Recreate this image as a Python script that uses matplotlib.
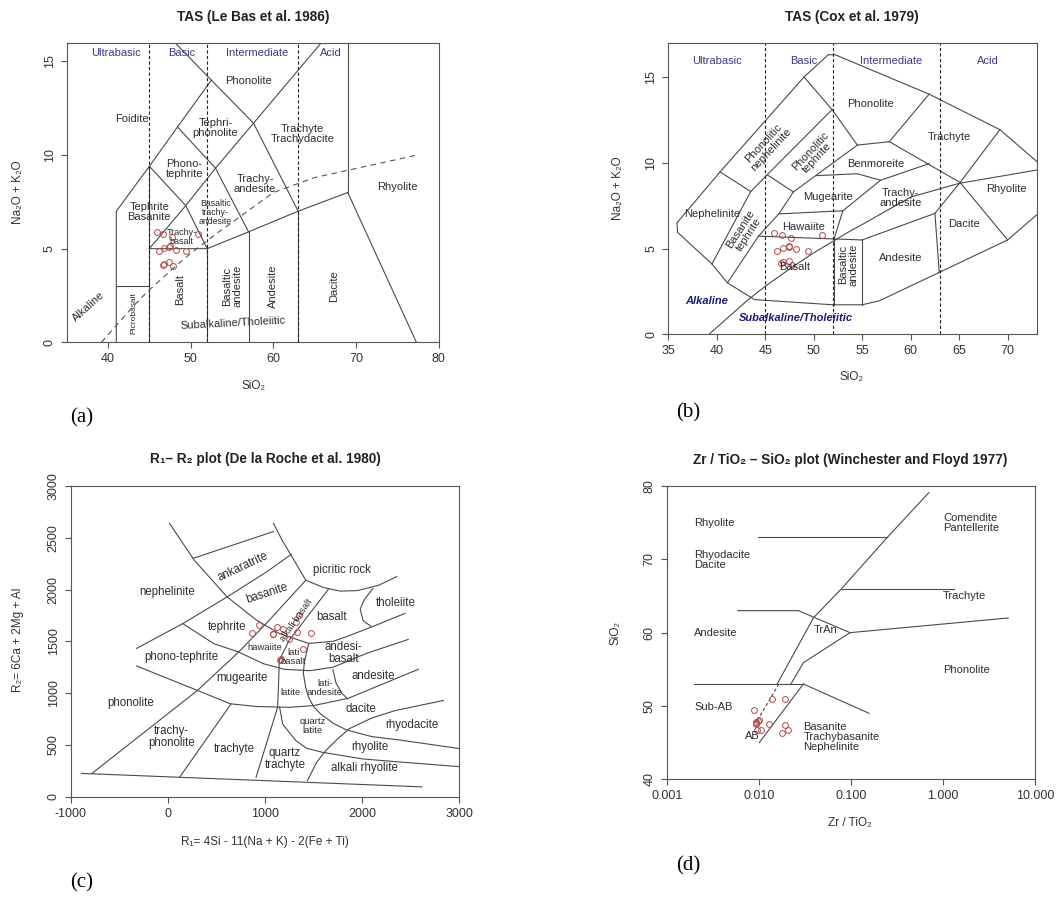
import matplotlib
matplotlib.use("Agg")
import matplotlib.pyplot as plt
from matplotlib.ticker import FixedLocator, NullLocator

plt.rcParams["font.family"] = ["Liberation Sans", "DejaVu Sans"]
plt.rcParams["axes.unicode_minus"] = False

W, H = 1059, 897
LINE = "#4a4a4a"
TXT = "#2e2e2e"
GROUP = "#3a3a88"
PT = "#b24a4a"

# ---------------------------------------------------------------------------
# Data
# ---------------------------------------------------------------------------

# samples (SiO2, Na2O+K2O)
sio2 = [45.9, 46.7, 47.7, 50.9, 46.2, 46.8, 47.4, 47.5, 48.2, 49.4, 46.6, 46.8, 47.4, 47.8]
alk = [5.9, 5.8, 5.6, 5.8, 4.85, 5.05, 5.1, 5.15, 4.95, 4.85, 4.15, 4.2, 4.3, 4.05]

# Irvine & Baragar alkaline / subalkaline divide
ib_sio2 = [39.2, 40, 43.2, 45, 48, 50, 53.7, 55, 60, 65, 77.4]
ib_alk = [0, 0.4, 2, 2.8, 4, 4.75, 6, 6.4, 8, 8.8, 10]

# (a) Le Bas et al. 1986 field boundaries
lebas_lines = [
    [(41, 0), (41, 7), (45, 9.4), (48.4, 11.5), (52.5, 14)],
    [(41, 3), (45, 3)],
    [(45, 0), (45, 9.4)],
    [(45, 5), (52, 5), (57, 5.9), (63, 7), (69, 8)],
    [(52, 0), (52, 5)],
    [(57, 0), (57, 5.9)],
    [(63, 0), (63, 7)],
    [(69, 8), (69, 16)],
    [(69, 8), (77.3, 0)],
    [(45, 5), (49.4, 7.3), (53, 9.3), (57.6, 11.7), (65.8, 16)],
    [(45, 9.4), (49.4, 7.3), (52, 5)],
    [(48.4, 11.5), (53, 9.3), (57, 5.9)],
    [(48.1, 16), (52.5, 14), (57.6, 11.7), (63, 7)],
]
lebas_labels = [
    ("Phonolite", 57.0, 13.93, 8, 0),
    ("Foidite", 42.9, 11.9, 8, 0),
    ("Tephri-\nphonolite", 53.0, 11.45, 8, 0),
    ("Trachyte\nTrachydacite", 63.5, 11.15, 8, 0),
    ("Phono-\ntephrite", 49.2, 9.25, 8, 0),
    ("Trachy-\nandesite", 57.8, 8.45, 8, 0),
    ("Rhyolite", 75.0, 8.3, 8, 0),
    ("Tephrite\nBasanite", 45.0, 6.95, 8, 0),
    ("Basaltic\ntrachy-\nandesite", 53.0, 6.95, 6.3, 0),
    ("Trachy-\nbasalt", 48.9, 5.6, 6.5, 0),
    ("Basalt", 48.7, 2.8, 8, 90),
    ("Basaltic\nandesite", 55.0, 3.0, 8, 90),
    ("Andesite", 60.0, 3.0, 8, 90),
    ("Dacite", 67.3, 3.0, 8, 90),
    ("Picrobasalt", 43.1, 1.55, 6, 90),
    ("Alkaline", 37.6, 1.9, 8, 42),
    ("Subalkaline/Tholeiitic", 55.1, 1.0, 8, 3),
]
lebas_groups = [("Ultrabasic", 41.0), ("Basic", 48.9), ("Intermediate", 58.0), ("Acid", 67.0)]

# (b) Cox et al. 1979 field boundaries
cox_lines = [
    [(35.9, 6.5), (40.34, 9.47), (49.0, 15.0), (51.5, 16.3), (52.2, 16.3),
     (61.9, 14.0), (69.2, 11.93), (73.0, 10.08)],
    [(35.9, 6.5), (35.95, 5.95), (39.5, 4.1), (41.1, 3.0), (43.9, 2.02),
     (52.0, 1.72), (55.0, 1.72), (56.8, 1.96), (70.0, 5.5), (73.0, 6.96)],
    [(40.34, 9.47), (43.5, 8.32)],
    [(39.5, 4.1), (43.5, 8.32), (45.2, 9.3), (51.9, 13.1)],
    [(49.0, 15.0), (51.9, 13.1), (54.5, 11.03)],
    [(45.2, 9.3), (47.9, 8.3)],
    [(47.9, 8.3), (54.5, 11.03)],
    [(54.5, 11.03), (57.8, 11.23)],
    [(57.8, 11.23), (61.9, 14.0)],
    [(57.8, 11.23), (65.1, 8.85)],
    [(50.3, 9.25), (54.5, 9.36), (56.9, 8.98), (61.9, 9.95)],
    [(41.1, 3.0), (44.3, 5.72), (46.4, 7.02), (47.9, 8.3)],
    [(44.3, 5.72), (52.1, 5.56)],
    [(46.4, 7.02), (53.0, 7.2)],
    [(53.0, 7.2), (52.1, 5.56)],
    [(53.0, 7.2), (56.9, 8.98)],
    [(52.1, 5.56), (52.1, 1.72)],
    [(52.1, 5.56), (55.0, 5.5)],
    [(55.0, 5.5), (55.0, 1.72)],
    [(55.0, 5.5), (62.5, 7.05)],
    [(62.5, 7.05), (62.95, 3.6)],
    [(62.5, 7.05), (65.1, 8.85)],
    [(65.1, 8.85), (69.2, 11.93)],
    [(65.1, 8.85), (70.0, 5.5)],
]
cox_labels = [
    ("Phonolite", 55.9, 13.45, 8, 0),
    ("Trachyte", 64.0, 11.5, 8, 0),
    ("Benmoreite", 56.4, 9.95, 8, 0),
    ("Rhyolite", 69.9, 8.5, 8, 0),
    ("Mugearite", 51.5, 8.0, 8, 0),
    ("Trachy-\nandesite", 59.0, 7.95, 8, 0),
    ("Nephelinite", 39.5, 7.0, 8, 0),
    ("Dacite", 65.5, 6.45, 8, 0),
    ("Hawaiite", 49.0, 6.25, 8, 0),
    ("Andesite", 59.0, 4.45, 8, 0),
    ("Basalt", 48.0, 3.95, 8, 0),
    ("Basaltic\nandesite", 53.6, 4.05, 8, 90),
    ("Phonolitic\nnephelinite", 45.2, 10.95, 8, 47),
    ("Phonolitic\ntephrite", 50.0, 10.5, 8, 47),
    ("Basanite\ntephrite", 42.9, 6.0, 8, 57),
]
cox_groups = [("Ultrabasic", 40.0), ("Basic", 49.0), ("Intermediate", 58.0), ("Acid", 68.0)]

# (c) De la Roche et al. 1980 (R1, R2)
r1 = [863, 942, 1078, 1085, 1119, 1181, 1317, 1345, 1334, 1478, 1249, 1392, 1157, 1160]
r2 = [1577, 1656, 1574, 1570, 1639, 1623, 1687, 1750, 1590, 1581, 1526, 1429, 1323, 1330]
roche_lines = [
    [(-890, 225), (2615, 95)],
    [(-780, 226), (305, 1026), (729, 1397), (1017, 1677), (1420, 2090)],
    [(-321, 1432), (153, 1671), (610, 1929), (1017, 2171), (1270, 2340)],
    [(17, 2639), (271, 2284), (610, 1929), (915, 1703), (1150, 1575), (1450, 1480),
     (1700, 1500), (1830, 1542), (2100, 1640), (2441, 1770)],
    [(1086, 2640), (1180, 2470), (1257, 2350), (1420, 2090), (1600, 2020), (1772, 1985),
     (1950, 1990), (2171, 2042), (2355, 2125)],
    [(2110, 2010), (2020, 1900), (1980, 1810), (2010, 1700), (2090, 1645)],
    [(262, 2302), (1086, 2560)],
    [(153, 1671), (475, 1477), (729, 1397), (983, 1284), (1200, 1230), (1463, 1217),
     (1700, 1250), (2046, 1384), (2475, 1519)],
    [(-321, 1262), (305, 1026), (644, 897), (915, 871), (1257, 863), (1500, 880),
     (1857, 950), (2578, 1230)],
    [(1652, 2002), (1249, 1510), (1147, 1316), (1140, 1100), (1130, 865), (908, 187)],
    [(650, 895), (125, 193)],
    [(1700, 1225), (1730, 1100), (1790, 1000), (1850, 945)],
    [(1450, 1478), (1405, 1300), (1395, 1191), (1420, 1050), (1446, 966), (1500, 870),
     (1566, 805), (1700, 710), (1840, 644), (2100, 580), (2389, 547), (3000, 465)],
    [(1150, 866), (1181, 703), (1317, 542), (1429, 467), (1590, 429), (2000, 365),
     (2389, 335), (3000, 290)],
    [(1437, 155), (1530, 330), (1625, 445), (1750, 560), (1864, 655), (2100, 760),
     (2341, 832), (2836, 929)],
]
roche_labels = [
    ("ankaratrite", 777, 2221, 8.3, 25),
    ("picritic rock", 1796, 2189, 8.3, 0),
    ("nephelinite", -2, 1980, 8.3, 0),
    ("basanite", 1017, 1964, 8.3, 18),
    ("tholeiite", 2348, 1867, 8.3, 0),
    ("alkali basalt", 1326, 1706, 6.8, 55),
    ("basalt", 1686, 1732, 8.3, 0),
    ("tephrite", 605, 1642, 8.3, 0),
    ("andesi-\nbasalt", 1806, 1384, 8.3, 0),
    ("hawaiite", 1000, 1439, 6.8, 0),
    ("lati\nbasalt", 1292, 1352, 6.8, 0),
    ("phono-tephrite", 136, 1346, 8.3, 0),
    ("andesite", 2115, 1165, 8.3, 0),
    ("mugearite", 767, 1143, 8.3, 0),
    ("lati-\nandesite", 1617, 1046, 6.8, 0),
    ("latite", 1264, 1008, 6.8, 0),
    ("phonolite", -383, 901, 8.3, 0),
    ("dacite", 1988, 850, 8.3, 0),
    ("rhyodacite", 2513, 692, 8.3, 0),
    ("quartz\nlatite", 1491, 682, 6.8, 0),
    ("trachy-\nphonolite", 39, 579, 8.3, 0),
    ("rhyolite", 2081, 483, 8.3, 0),
    ("trachyte", 684, 457, 8.3, 0),
    ("quartz\ntrachyte", 1206, 364, 8.3, 0),
    ("alkali rhyolite", 2022, 274, 8.3, 0),
]

# (d) Winchester & Floyd 1977 (Zr/TiO2, SiO2)
zr_tio2 = [0.0088, 0.0100, 0.0093, 0.0092, 0.0139, 0.0190, 0.0130, 0.0095, 0.0105,
           0.0190, 0.0205, 0.0180, 0.0092, 0.0097]
sio2_d = [49.4, 48.1, 47.8, 47.6, 51.0, 51.0, 47.5, 46.7, 46.7, 47.4, 46.7, 46.3, 47.7, 47.9]
wf_lines = [
    [(0.0099, 73.0), (0.248, 73.0)],
    [(0.70, 79.1), (0.248, 73.0), (0.079, 66.0), (0.039, 62.0), (0.0304, 59.5), (0.0158, 53.0)],
    [(0.002, 53.0), (0.0304, 53.0)],
    [(0.0304, 53.0), (0.157, 49.0)],
    [(0.0304, 53.0), (0.0101, 45.0)],
    [(0.0223, 53.0), (0.0304, 55.9), (0.0975, 60.0), (5.09, 62.0)],
    [(0.0059, 63.0), (0.0268, 63.0), (0.0975, 60.0)],
    [(0.079, 66.0), (1.31, 66.0)],
]
wf_dashed = [(0.0165, 53.0), (0.0096, 48.0)]
wf_labels = [
    ("Rhyolite", 0.002, 75.0, "left"),
    ("Rhyodacite\nDacite", 0.002, 69.9, "left"),
    ("Comendite\nPantellerite", 1.0, 74.9, "left"),
    ("Trachyte", 1.0, 65.0, "left"),
    ("Andesite", 0.002, 59.9, "left"),
    ("TrAn", 0.039, 60.4, "left"),
    ("Phonolite", 1.0, 54.9, "left"),
    ("Sub-AB", 0.002, 49.9, "left"),
    ("AB", 0.0071, 45.9, "left"),
    ("Basanite\nTrachybasanite\nNephelinite", 0.0304, 45.8, "left"),
]


# ---------------------------------------------------------------------------
# Helpers
# ---------------------------------------------------------------------------

def fx(x):
    return x / W


def fy(y):
    return 1 - y / H


def make_axes(fig, left, top, right, bottom):
    ax = fig.add_axes([fx(left), fy(bottom), (right - left) / W, (bottom - top) / H])
    for s in ax.spines.values():
        s.set_color("#555555")
        s.set_linewidth(0.8)
    ax.tick_params(length=4, width=0.8, color="#555555", labelsize=9,
                   labelcolor="#333333", pad=4)
    return ax


def draw_lines(ax, lines, **kw):
    for seg in lines:
        xs = [p[0] for p in seg]
        ys = [p[1] for p in seg]
        ax.plot(xs, ys, **kw)


def put_labels(ax, labels):
    for txt, x, y, size, rot in labels:
        ax.text(x, y, txt, ha="center", va="center", fontsize=size, rotation=rot,
                color=TXT, linespacing=1.0)


def yticks_vertical(ax):
    for lab in ax.get_yticklabels():
        lab.set_rotation(90)
        lab.set_va("center")
        lab.set_ha("right")


fig = plt.figure(figsize=(W / 100, H / 100), dpi=100)
lw = dict(color=LINE, lw=0.8)

# ---------------------------------------------------------------------------
# (a) TAS Le Bas
# ---------------------------------------------------------------------------
ax = make_axes(fig, 66.7, 42.7, 438.7, 342.3)
ax.set_xlim(35, 80)
ax.set_ylim(0, 16)
ax.set_xticks([40, 50, 60, 70, 80])
ax.set_yticks([0, 5, 10, 15])
draw_lines(ax, lebas_lines, **lw)
for v in [45, 52, 63]:
    ax.axvline(v, color="#222222", lw=0.8, ls=(0, (3, 2)))
ax.plot(ib_sio2, ib_alk, color="#555555", lw=0.8, ls=(0, (5, 4)))
put_labels(ax, lebas_labels)
for txt, x in lebas_groups:
    ax.text(x, 15.45, txt, ha="center", va="center", fontsize=8, color=GROUP)
ax.plot(sio2, alk, "o", mfc="none", mec=PT, ms=4.2, mew=0.7)
yticks_vertical(ax)
fig.text(fx(253), fy(17), "TAS (Le Bas et al. 1986)", ha="center", va="center",
         fontsize=9.8, fontweight="bold", color="#222222")
fig.text(fx(253), fy(386), "SiO₂", ha="center", va="center", fontsize=8.5, color="#333333")
fig.text(fx(18), fy(192), "Na₂O + K₂O", ha="center", va="center", fontsize=8.5,
         rotation=90, color="#333333")
fig.text(fx(82), fy(418), "(a)", ha="center", va="center", fontsize=15,
         family="Liberation Serif")

# ---------------------------------------------------------------------------
# (b) TAS Cox
# ---------------------------------------------------------------------------
ax = make_axes(fig, 668.3, 42.7, 1036.7, 334.3)
ax.set_xlim(35, 73)
ax.set_ylim(0, 17)
ax.set_xticks([35, 40, 45, 50, 55, 60, 65, 70])
ax.set_yticks([0, 5, 10, 15])
draw_lines(ax, cox_lines, **lw)
ax.plot(ib_sio2, ib_alk, **lw)
for v in [45, 52, 63]:
    ax.axvline(v, color="#222222", lw=0.8, ls=(0, (3, 2)))
put_labels(ax, cox_labels)
for txt, x in cox_groups:
    ax.text(x, 15.95, txt, ha="center", va="center", fontsize=8, color=GROUP)
ax.text(39.0, 1.97, "Alkaline", ha="center", va="center", fontsize=8,
        fontweight="bold", style="italic", color="#1c1c78")
ax.text(48.2, 0.93, "Subalkaline/Tholeiitic", ha="center", va="center", fontsize=8,
        fontweight="bold", style="italic", color="#1c1c78")
ax.plot(sio2, alk, "o", mfc="none", mec=PT, ms=4.2, mew=0.7)
yticks_vertical(ax)
fig.text(fx(852), fy(17), "TAS (Cox et al. 1979)", ha="center", va="center",
         fontsize=9.8, fontweight="bold", color="#222222")
fig.text(fx(852), fy(377), "SiO₂", ha="center", va="center", fontsize=8.5, color="#333333")
fig.text(fx(618), fy(188), "Na₂O + K₂O", ha="center", va="center", fontsize=8.5,
         rotation=90, color="#333333")
fig.text(fx(688), fy(413), "(b)", ha="center", va="center", fontsize=15,
         family="Liberation Serif")

# ---------------------------------------------------------------------------
# (c) R1-R2
# ---------------------------------------------------------------------------
ax = make_axes(fig, 70.7, 486, 459.3, 796.7)
ax.set_xlim(-1000, 3000)
ax.set_ylim(0, 3000)
ax.set_xticks([-1000, 0, 1000, 2000, 3000])
ax.set_yticks([0, 500, 1000, 1500, 2000, 2500, 3000])
draw_lines(ax, roche_lines, **lw)
put_labels(ax, roche_labels)
ax.plot(r1, r2, "o", mfc="none", mec=PT, ms=4.2, mew=0.7)
yticks_vertical(ax)
fig.text(fx(265), fy(459), "R₁– R₂ plot (De la Roche et al. 1980)", ha="center",
         va="center", fontsize=9.8, fontweight="bold", color="#222222")
fig.text(fx(265), fy(842), "R₁= 4Si - 11(Na + K) - 2(Fe + Ti)", ha="center",
         va="center", fontsize=8.5, color="#333333")
fig.text(fx(18), fy(640), "R₂= 6Ca + 2Mg + Al", ha="center", va="center", fontsize=8.5,
         rotation=90, color="#333333")
fig.text(fx(82), fy(883), "(c)", ha="center", va="center", fontsize=15,
         family="Liberation Serif")

# ---------------------------------------------------------------------------
# (d) Winchester & Floyd
# ---------------------------------------------------------------------------
ax = make_axes(fig, 666.7, 486, 1035.3, 779.3)
ax.set_xscale("log")
ax.set_xlim(0.001, 10)
ax.set_ylim(40, 80)
ax.xaxis.set_major_locator(FixedLocator([0.001, 0.01, 0.1, 1, 10]))
ax.xaxis.set_minor_locator(NullLocator())
ax.set_xticklabels(["0.001", "0.010", "0.100", "1.000", "10.000"])
ax.set_yticks([40, 50, 60, 70, 80])
draw_lines(ax, wf_lines, **lw)
ax.plot([p[0] for p in wf_dashed], [p[1] for p in wf_dashed], color=LINE, lw=0.8,
        ls=(0, (3, 2)))
for txt, x, y, ha in wf_labels:
    ax.text(x, y, txt, ha=ha, va="center", fontsize=8, color=TXT, linespacing=1.0)
ax.plot(zr_tio2, sio2_d, "o", mfc="none", mec=PT, ms=4.2, mew=0.7)
yticks_vertical(ax)
fig.text(fx(850), fy(460), "Zr / TiO₂ – SiO₂ plot (Winchester and Floyd 1977)",
         ha="center", va="center", fontsize=9.8, fontweight="bold", color="#222222")
fig.text(fx(850), fy(823), "Zr / TiO₂", ha="center", va="center", fontsize=8.5,
         color="#333333")
fig.text(fx(615), fy(633), "SiO₂", ha="center", va="center", fontsize=8.5,
         rotation=90, color="#333333")
fig.text(fx(688), fy(866), "(d)", ha="center", va="center", fontsize=15,
         family="Liberation Serif")

fig.savefig("out.png", dpi=100)
